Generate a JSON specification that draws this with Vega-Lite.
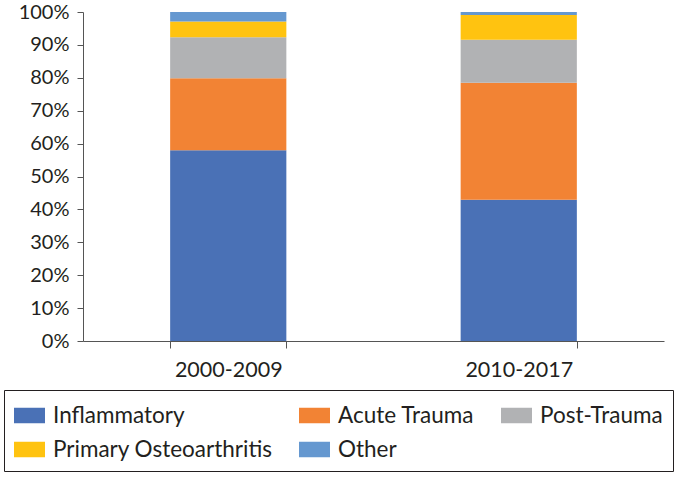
{
  "$schema": "https://vega.github.io/schema/vega-lite/v6.json",
  "width": 581,
  "height": 329,
  "autosize": "none",
  "padding": {"left": 83, "top": 12, "right": 10, "bottom": 136},
  "background": "white",
  "config": {"view": {"stroke": null}, "font": "Lato", "legend": {"strokeWidth": 1}},
  "data": {
    "values": [
      {"period": "2000-2009", "category": "Inflammatory", "value": 58.0, "ord": 1},
      {"period": "2000-2009", "category": "Acute Trauma", "value": 21.9, "ord": 2},
      {"period": "2000-2009", "category": "Post-Trauma", "value": 12.4, "ord": 3},
      {"period": "2000-2009", "category": "Primary Osteoarthritis", "value": 4.8, "ord": 4},
      {"period": "2000-2009", "category": "Other", "value": 2.9, "ord": 5},
      {"period": "2010-2017", "category": "Inflammatory", "value": 42.9, "ord": 1},
      {"period": "2010-2017", "category": "Acute Trauma", "value": 35.6, "ord": 2},
      {"period": "2010-2017", "category": "Post-Trauma", "value": 13.1, "ord": 3},
      {"period": "2010-2017", "category": "Primary Osteoarthritis", "value": 7.5, "ord": 4},
      {"period": "2010-2017", "category": "Other", "value": 0.9, "ord": 5}
    ]
  },
  "mark": {"type": "bar"},
  "encoding": {
    "x": {
      "field": "period",
      "type": "nominal",
      "scale": {"paddingInner": 0.6, "paddingOuter": 0.3},
      "axis": {
        "title": null,
        "labelAngle": 0,
        "tickBand": "extent",
        "domainColor": "#555555",
        "tickColor": "#555555",
        "tickSize": 7,
        "labelFontSize": 21.5,
        "labelColor": "#231f20",
        "labelPadding": 11
      }
    },
    "y": {
      "field": "value",
      "type": "quantitative",
      "stack": "normalize",
      "scale": {"domain": [0, 1]},
      "axis": {
        "title": null,
        "values": [0, 0.1, 0.2, 0.3, 0.4, 0.5, 0.6, 0.7, 0.8, 0.9, 1],
        "format": ".0%",
        "grid": false,
        "domainColor": "#555555",
        "tickColor": "#555555",
        "tickSize": 6,
        "labelPadding": 8,
        "labelFontSize": 20,
        "labelColor": "#231f20"
      }
    },
    "color": {
      "field": "category",
      "type": "nominal",
      "scale": {
        "domain": ["Inflammatory", "Acute Trauma", "Post-Trauma", "Primary Osteoarthritis", "Other"],
        "range": ["#4a71b6", "#f28334", "#b1b2b4", "#ffc310", "#6598d0"]
      },
      "legend": {
        "title": null,
        "orient": "none",
        "legendX": -79,
        "legendY": 378,
        "direction": "horizontal",
        "columns": 3,
        "symbolType": "M-1,-0.5H1V0.5H-1Z",
        "symbolSize": 961,
        "symbolStrokeWidth": 0,
        "symbolOpacity": 1,
        "labelFontSize": 22.5,
        "labelColor": "#231f20",
        "labelOffset": 8,
        "labelLimit": 400,
        "columnPadding": 26,
        "rowPadding": 7,
        "padding": 10,
        "strokeColor": "#231f20"
      }
    },
    "order": {"field": "ord", "type": "quantitative"}
  }
}
